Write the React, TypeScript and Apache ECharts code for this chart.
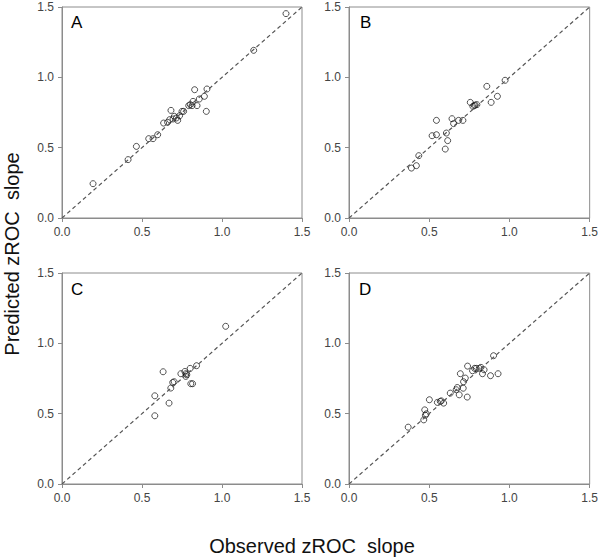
import React, { useEffect, useRef } from "react";
import * as echarts from "echarts";

const panelLabels = ["A", "B", "C", "D"];
const axisTicks = [0, 0.5, 1.0, 1.5];

const observedA = [0.194, 0.413, 0.465, 0.542, 0.569, 0.598, 0.635, 0.66, 0.673, 0.681, 0.694, 0.702, 0.715, 0.723, 0.735, 0.75, 0.76, 0.792, 0.802, 0.813, 0.819, 0.829, 0.844, 0.858, 0.89, 0.902, 0.906, 1.198, 1.4];
const predictedA = [0.244, 0.415, 0.509, 0.564, 0.564, 0.592, 0.675, 0.68, 0.699, 0.765, 0.704, 0.723, 0.711, 0.694, 0.727, 0.758, 0.758, 0.799, 0.806, 0.799, 0.829, 0.912, 0.799, 0.846, 0.865, 0.758, 0.917, 1.192, 1.453];

const observedB = [0.389, 0.42, 0.435, 0.518, 0.545, 0.545, 0.6, 0.607, 0.615, 0.642, 0.652, 0.683, 0.71, 0.756, 0.772, 0.781, 0.787, 0.797, 0.859, 0.886, 0.925, 0.973];
const predictedB = [0.355, 0.372, 0.443, 0.585, 0.592, 0.694, 0.49, 0.604, 0.55, 0.706, 0.671, 0.694, 0.694, 0.822, 0.794, 0.799, 0.803, 0.806, 0.936, 0.822, 0.865, 0.979];

const observedC = [0.58, 0.58, 0.632, 0.669, 0.68, 0.692, 0.701, 0.743, 0.768, 0.774, 0.774, 0.78, 0.801, 0.805, 0.816, 0.841, 1.023];
const predictedC = [0.485, 0.627, 0.798, 0.575, 0.682, 0.722, 0.727, 0.784, 0.8, 0.784, 0.765, 0.777, 0.822, 0.713, 0.713, 0.841, 1.121];

const observedD = [0.369, 0.466, 0.472, 0.476, 0.482, 0.501, 0.551, 0.569, 0.575, 0.59, 0.631, 0.668, 0.675, 0.687, 0.694, 0.712, 0.714, 0.725, 0.737, 0.739, 0.77, 0.783, 0.793, 0.812, 0.822, 0.832, 0.842, 0.882, 0.901, 0.929];
const predictedD = [0.404, 0.456, 0.527, 0.489, 0.499, 0.599, 0.58, 0.587, 0.591, 0.575, 0.646, 0.67, 0.686, 0.634, 0.784, 0.681, 0.727, 0.753, 0.618, 0.838, 0.805, 0.822, 0.822, 0.822, 0.829, 0.784, 0.812, 0.77, 0.912, 0.784];

const identityLine = [[0, 0], [1.5, 1.5]];

const xTitle = "Observed zROC  slope";
const yTitle = "Predicted zROC  slope";

export default function App() {
  const ref = useRef<HTMLDivElement>(null);
  useEffect(() => {
    if (!ref.current) return;
    const chart = echarts.init(ref.current, null, { renderer: "svg" });
    const font = "Liberation Sans, Arial, sans-serif";
    const grids = [
      { left: 62, top: 7, width: 240, height: 211 },
      { left: 349, top: 7, width: 242, height: 211 },
      { left: 62, top: 273, width: 240, height: 211 },
      { left: 349, top: 273, width: 242, height: 211 },
    ];
    const obs = [observedA, observedB, observedC, observedD];
    const pred = [predictedA, predictedB, predictedC, predictedD];
    const axisColor = "#8c8c8c";
    const mkAxis = (i: number) => ({
      type: "value",
      gridIndex: i,
      min: axisTicks[0],
      max: axisTicks[axisTicks.length - 1],
      interval: 0.5,
      axisLine: { show: true, onZero: false, lineStyle: { color: axisColor, width: 1 } },
      axisTick: { show: true, inside: false, length: 4, lineStyle: { color: axisColor } },
      splitLine: { show: false },
      axisLabel: {
        color: "#444",
        fontSize: 12,
        fontFamily: font,
        margin: 8,
        formatter: (v: number) => v.toFixed(1),
      },
    });
    const series: any[] = [];
    for (let i = 0; i < 4; i++) {
      series.push({
        type: "line",
        xAxisIndex: i,
        yAxisIndex: i,
        data: identityLine,
        symbol: "none",
        silent: true,
        lineStyle: { color: "#555", width: 1.2, type: [4, 3] },
      });
      series.push({
        type: "scatter",
        xAxisIndex: i,
        yAxisIndex: i,
        symbol: "circle",
        symbolSize: 6,
        data: obs[i].map((v, j) => [v, pred[i][j]]),
        itemStyle: { color: "rgba(255,255,255,0)", borderColor: "#111", borderWidth: 0.9 },
      });
    }
    const letterPos = [
      [71, 14],
      [360, 14],
      [71, 281],
      [359, 281],
    ];
    chart.setOption({
      animation: false,
      backgroundColor: "#fff",
      grid: grids.map((g) => ({ ...g, show: true, borderColor: axisColor, borderWidth: 1, backgroundColor: "transparent" })),
      xAxis: grids.map((_, i) => mkAxis(i)),
      yAxis: grids.map((_, i) => mkAxis(i)),
      series,
      graphic: [
        ...panelLabels.map((t, i) => ({
          type: "text",
          x: letterPos[i][0],
          y: letterPos[i][1],
          style: { text: t, fontSize: 17, fontFamily: font, fill: "#000", textVerticalAlign: "top" },
        })),
        {
          type: "text",
          x: 312,
          y: 546,
          style: { text: xTitle, fontSize: 20, fontFamily: font, fill: "#111", textAlign: "center", textVerticalAlign: "middle" },
        },
        {
          type: "text",
          x: 12,
          y: 254,
          rotation: Math.PI / 2,
          style: { text: yTitle, fontSize: 20, fontFamily: font, fill: "#111", textAlign: "center", textVerticalAlign: "middle" },
        },
      ],
    });
    return () => chart.dispose();
  }, []);
  return <div ref={ref} style={{ position: "absolute", left: 0, top: 0, width: 601, height: 558 }} />;
}
